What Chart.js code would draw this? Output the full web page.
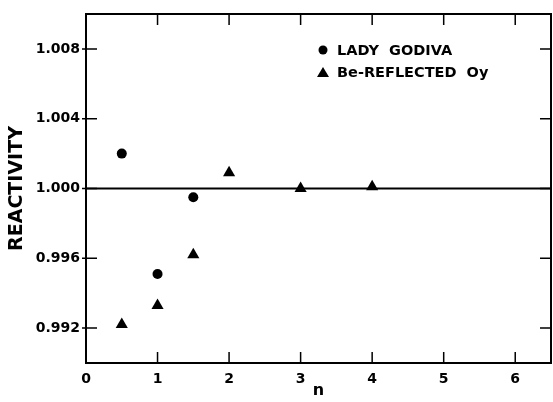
<!DOCTYPE html>
<html>
<head>
<meta charset="utf-8">
<script src="https://cdn.jsdelivr.net/npm/chart.js@4.4.1/dist/chart.umd.min.js"></script>
<style>
  html, body { margin: 0; padding: 0; background: #fff; }
  #wrap { width: 553px; height: 402px; position: relative; }
</style>
</head>
<body>
<div id="wrap"><canvas id="reactivity"></canvas></div>
<script>
// reactivity vs n
var godivaN = [0.5, 1, 1.5];
var godivaReact = [1.0020, 0.9951, 0.9995];

var beOyN = [0.5, 1, 1.5, 2, 3, 4];
var beOyReact = [0.9922, 0.9933, 0.9962, 1.0009, 1.0000, 1.0001];

var xTicks = [0, 1, 2, 3, 4, 5, 6];
var yTicks = [0.992, 0.996, 1.000, 1.004, 1.008];
var unityLine = 1.000;

var legendItems = ["LADY  GODIVA", "Be-REFLECTED  Oy"];

var FONT = "'DejaVu Sans'";

function toPoints(xs, ys) {
  return xs.map(function (x, i) { return { x: x, y: ys[i] }; });
}

// frame, inward tick marks, the 1.000 line and the key
var framePlugin = {
  id: 'frame',
  afterDatasetsDraw: function (chart) {
    var ctx = chart.ctx;
    var a = chart.chartArea;
    var xs = chart.scales.x, ys = chart.scales.y;
    ctx.save();
    ctx.strokeStyle = '#000';
    ctx.lineWidth = 2;
    ctx.strokeRect(a.left, a.top, a.right - a.left, a.bottom - a.top);

    ctx.beginPath();
    var yu = ys.getPixelForValue(unityLine);
    ctx.moveTo(a.left, yu);
    ctx.lineTo(a.right, yu);
    ctx.stroke();

    ctx.lineWidth = 1.5;
    ctx.beginPath();
    xTicks.forEach(function (v) {
      if (v === 0) return;
      var px = xs.getPixelForValue(v);
      ctx.moveTo(px, a.bottom);
      ctx.lineTo(px, a.bottom - 11);
      ctx.moveTo(px, a.top);
      ctx.lineTo(px, a.top + 11);
    });
    yTicks.forEach(function (v) {
      var py = ys.getPixelForValue(v);
      ctx.moveTo(a.left - 4, py);
      ctx.lineTo(a.left + 11, py);
      ctx.moveTo(a.right, py);
      ctx.lineTo(a.right - 11, py);
    });
    ctx.stroke();

    // key
    ctx.fillStyle = '#000';
    ctx.font = 'bold 14.5px ' + FONT;
    ctx.textBaseline = 'middle';
    ctx.textAlign = 'left';
    ctx.beginPath();
    ctx.arc(323, 50, 4.5, 0, Math.PI * 2);
    ctx.fill();
    ctx.fillText(legendItems[0], 337, 51);
    ctx.beginPath();
    ctx.moveTo(323, 67);
    ctx.lineTo(329, 77);
    ctx.lineTo(317, 77);
    ctx.closePath();
    ctx.fill();
    ctx.fillText(legendItems[1], 337, 73);
    ctx.restore();
  }
};

new Chart(document.getElementById('reactivity'), {
  type: 'scatter',
  data: {
    datasets: [
      {
        label: legendItems[0],
        data: toPoints(godivaN, godivaReact),
        pointStyle: 'circle',
        pointRadius: 5,
        backgroundColor: '#000',
        borderColor: '#000',
        borderWidth: 0
      },
      {
        label: legendItems[1],
        data: toPoints(beOyN, beOyReact),
        pointStyle: 'triangle',
        pointRadius: 7,
        backgroundColor: '#000',
        borderColor: '#000',
        borderWidth: 0
      }
    ]
  },
  options: {
    responsive: true,
    maintainAspectRatio: false,
    animation: false,
    layout: {
      autoPadding: false,
      padding: { top: 14, right: 2, left: 0, bottom: 0 }
    },
    plugins: {
      legend: { display: false },
      tooltip: { enabled: false }
    },
    scales: {
      x: {
        type: 'linear',
        min: 0,
        max: 6.5,
        afterBuildTicks: function (scale) {
          scale.ticks = xTicks.map(function (v) { return { value: v }; });
        },
        afterFit: function (scale) {
          scale.height = 39;
          scale.paddingLeft = 0;
          scale.paddingRight = 0;
        },
        grid: { display: false, drawTicks: false },
        border: { display: false },
        ticks: {
          padding: 8,
          color: '#000',
          maxRotation: 0,
          autoSkip: false,
          font: { family: FONT, size: 14, weight: 'bold' },
          callback: function (v) { return String(v); }
        },
        title: {
          display: true,
          text: 'n',
          color: '#000',
          padding: { top: 0, bottom: 2 },
          font: { family: FONT, size: 16, weight: 'bold' }
        }
      },
      y: {
        type: 'linear',
        min: 0.990,
        max: 1.010,
        afterBuildTicks: function (scale) {
          scale.ticks = yTicks.map(function (v) { return { value: v }; });
        },
        afterFit: function (scale) {
          scale.width = 86;
          scale.paddingTop = 0;
          scale.paddingBottom = 0;
        },
        grid: { display: false, drawTicks: false },
        border: { display: false },
        ticks: {
          padding: 6,
          color: '#000',
          autoSkip: false,
          font: { family: FONT, size: 14, weight: 'bold' },
          callback: function (v) { return v.toFixed(3); }
        },
        title: {
          display: true,
          text: 'REACTIVITY',
          color: '#000',
          padding: { top: 6, bottom: 0 },
          font: { family: FONT, size: 19, weight: 'bold' }
        }
      }
    }
  },
  plugins: [framePlugin]
});
</script>
</body>
</html>
